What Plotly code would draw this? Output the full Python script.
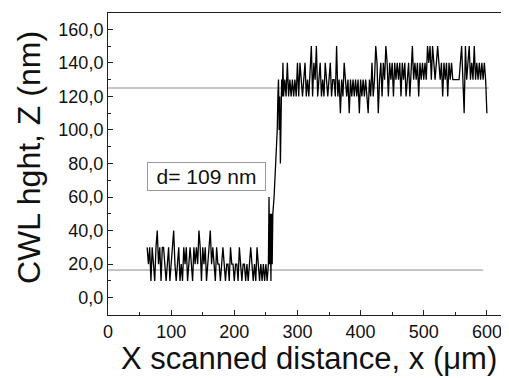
import numpy as np
import plotly.graph_objects as go

# ---- data ----
# low plateau: x = 62..254 step 2 um
low_x_start, low_x_step = 62, 2
low_z = [30,20,30,10,30,20,10,30,
         40,20,30,10,30,30,20,10,20,30,10,20,
         30,40,20,10,20,30,10,20,10,30,
         20,30,10,20,30,20,10,30,20,30,
         20,40,30,10,30,20,30,10,20,30,
         40,20,30,20,10,30,20,20,10,20,
         30,20,10,20,20,10,30,20,20,10,
         20,20,10,30,20,10,20,20,10,20,
         10,20,30,20,10,20,10,30,20,10,
         20,10,20,10,20,10,20]

# step edge
edge_x = [255,256,257,258,259,260,261,263,266,268,269,270,271,272,273,274,275,276,277,278]
edge_z = [60, 20, 50, 10, 50, 20, 50, 60, 80, 100,120,130,100,120,80, 110,130,120,140,120]

# high plateau: x = 280..600 step 2 um
high_x_start, high_x_step = 280, 2
high_z = [130,120,140,120,130,120,130,120,130,120,140,
          120,140,130,120,130,140,120,130,120,140,
          150,120,140,130,150,120,130,140,120,130,
          120,140,130,120,130,140,120,130,130,120,
          150,120,130,110,130,120,140,130,120,130,
          110,130,120,130,120,130,120,130,110,130,
          120,130,120,130,120,110,130,120,140,120,
          130,150,140,110,130,140,120,140,130,150,
          140,120,140,130,140,120,140,130,140,130,
          140,120,140,130,140,120,130,140,120,140,
          150,130,140,130,140,120,140,130,140,130,
          140,130,150,140,150,130,150,140,130,140,
          150,140,130,140,120,140,130,140,120,140,
          130,140,130,130,130,130,130,130,140,150,
          130,110,150,130,140,150,130,140,130,150,
          130,140,130,140,130,140,130,140,130,110]

# reference levels (nm) and their extents (um)
ref_levels = [16.5, 125.0]
ref_x_end = [594, 603]
step_label = "d= 109 nm"

low_x = low_x_start + low_x_step * np.arange(len(low_z))
high_x = high_x_start + high_x_step * np.arange(len(high_z))
x = np.concatenate([low_x, edge_x, high_x])
z = np.concatenate([low_z, edge_z, high_z])

fig = go.Figure()
fig.add_trace(go.Scatter(x=x, y=z, mode="lines",
                         line=dict(color="black", width=1.3),
                         showlegend=False, hoverinfo="skip"))

for lvl, xe in zip(ref_levels, ref_x_end):
    fig.add_shape(type="line", xref="x", yref="y", x0=0, x1=xe, y0=lvl, y1=lvl,
                  line=dict(color="#8c8c8c", width=1), layer="below")

fig.add_annotation(x=155.5, y=72.5, xref="x", yref="y", text=step_label,
                   showarrow=False, font=dict(family="Liberation Sans, Arial", size=21, color="#111"),
                   bordercolor="#9a9a9a", borderwidth=1, borderpad=1,
                   width=115, height=25, bgcolor="white")

# axis titles as annotations
fig.add_annotation(xref="paper", yref="paper", x=0.5, y=0, xshift=0, yshift=-43,
                   text="X scanned distance, x (\u03bcm)", showarrow=False,
                   font=dict(family="Liberation Sans, Arial", size=31, color="#111"),
                   xanchor="center", yanchor="middle")
fig.add_annotation(xref="paper", yref="paper", x=0, y=0.5, xshift=-79, yshift=6,
                   text="CWL hght, Z (nm)", showarrow=False, textangle=-90,
                   font=dict(family="Liberation Sans, Arial", size=32, color="#111"),
                   xanchor="center", yanchor="middle")

axis_font = dict(family="Liberation Sans, Arial", size=18, color="#111")
fig.update_layout(
    width=501, height=370,
    margin=dict(l=100, r=0, t=5, b=63),
    paper_bgcolor="white", plot_bgcolor="white",
    separators=", ",
    xaxis=dict(range=[0, 635], tickmode="array", tickvals=[0,100,200,300,400,500,600],
               ticks="inside", ticklen=5, tickcolor="#222", showgrid=False, zeroline=False,
               showline=True, linecolor="#222", linewidth=1, mirror=True,
               tickfont=axis_font,
               minor=dict(tickvals=[50,150,250,350,450,550], ticks="inside", ticklen=3, tickcolor="#222")),
    yaxis=dict(range=[-10.3, 169.7], tickmode="array", tickvals=[0,20,40,60,80,100,120,140,160],
               tickformat=".1f", ticks="inside", ticklen=5, tickcolor="#222",
               showgrid=False, zeroline=False, showline=True, linecolor="#222", linewidth=1,
               tickfont=axis_font,
               minor=dict(tickvals=[10,30,50,70,90,110,130,150], ticks="inside", ticklen=3, tickcolor="#222")),
)

fig.write_html("out.html")
